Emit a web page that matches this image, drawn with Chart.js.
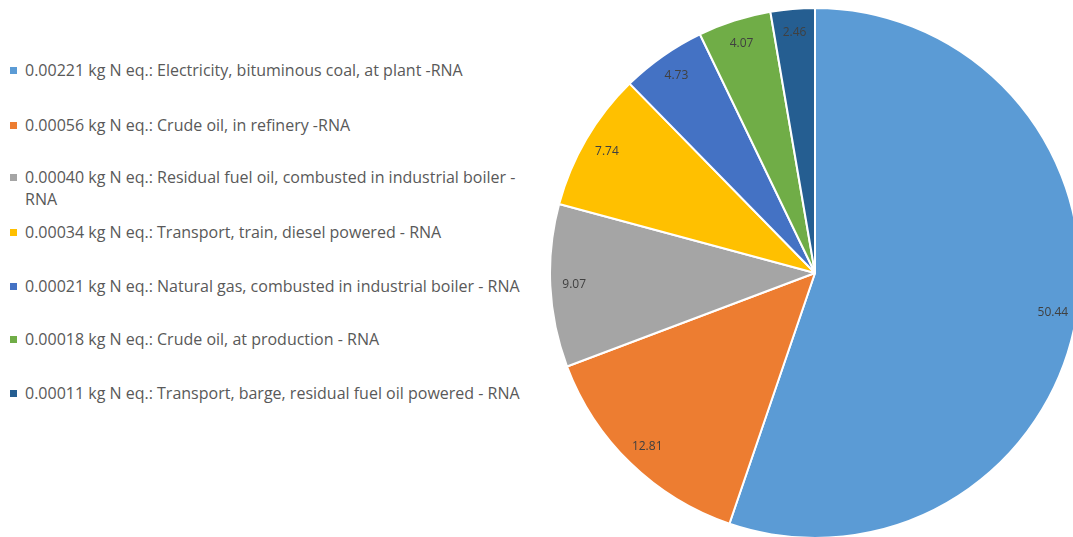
<!DOCTYPE html>
<html>
<head>
<meta charset="utf-8">
<script src="https://cdn.jsdelivr.net/npm/chart.js@4.4.0/dist/chart.umd.min.js"></script>
<style>
    html, body { margin: 0; padding: 0; background: #fff; overflow: hidden; }
    body { width: 1073px; height: 537px; position: relative; font-family: "Open Sans", "Noto Sans", sans-serif; }
    #pieBox { position: absolute; left: 549px; top: 7px; width: 532px; height: 532px; }
    .leg { position: absolute; left: 10px; width: 530px; font-size: 16px; line-height: 22px; color: #595959; }
    .leg .box { position: absolute; left: 0; top: 8px; width: 7px; height: 7px; }
    .leg .txt { margin-left: 15px; width: 505px; }
</style>
</head>
<body>
<div id="legend"></div>
<div id="pieBox"><canvas id="pieChart"></canvas></div>
<script>
/* global Chart*/

// Datos
const amounts = ['0.00221', '0.00056', '0.00040', '0.00034', '0.00021', '0.00018', '0.00011'];
const processes = [
    'Electricity, bituminous coal, at plant -RNA',
    'Crude oil, in refinery -RNA',
    'Residual fuel oil, combusted in industrial boiler - RNA',
    'Transport, train, diesel powered - RNA',
    'Natural gas, combusted in industrial boiler - RNA',
    'Crude oil, at production - RNA',
    'Transport, barge, residual fuel oil powered - RNA'
];
const shares = [50.44, 12.81, 9.07, 7.74, 4.73, 4.07, 2.46];
const colores = ['#5B9BD5', '#ED7D31', '#A5A5A5', '#FFC000', '#4472C4', '#70AD47', '#255E91'];

// Leyenda en HTML (las etiquetas largas necesitan partirse en dos líneas)
const legendTops = [59, 114, 166, 221, 275, 328, 382];
const legend = document.getElementById('legend');
amounts.forEach((a, i) => {
    const item = document.createElement('div');
    item.className = 'leg';
    item.style.top = legendTops[i] + 'px';
    item.innerHTML = '<span class="box" style="background:' + colores[i] + '"></span>' +
        '<div class="txt">' + a + ' kg N eq.: ' + processes[i] + '</div>';
    legend.appendChild(item);
});

// Etiquetas de valor dentro de cada porción, cerca del borde
const sliceLabels = {
    id: 'sliceLabels',
    afterDatasetsDraw(chart) {
        const ctx = chart.ctx;
        const meta = chart.getDatasetMeta(0);
        ctx.save();
        ctx.font = '12px "Open Sans", sans-serif';
        ctx.fillStyle = '#404040';
        ctx.textAlign = 'center';
        ctx.textBaseline = 'middle';
        meta.data.forEach((arc, i) => {
            const p = arc.getProps(['x', 'y', 'startAngle', 'endAngle', 'outerRadius'], true);
            const mid = (p.startAngle + p.endAngle) / 2;
            const r = p.outerRadius * 0.91;
            ctx.fillText(shares[i].toFixed(2), p.x + Math.cos(mid) * r, p.y + Math.sin(mid) * r);
        });
        ctx.restore();
    }
};

var ctx = document.getElementById('pieChart').getContext('2d');
var myChart = new Chart(ctx, {
    type: 'pie',
    data: {
        labels: processes,
        datasets: [{
            data: shares,
            backgroundColor: colores,
            borderColor: '#ffffff',
            borderWidth: 2
        }]
    },
    options: {
        responsive: true,
        maintainAspectRatio: false,
        animation: false,
        layout: { padding: 0 },
        plugins: {
            legend: { display: false },
            tooltip: { enabled: false }
        }
    },
    plugins: [sliceLabels]
});
</script>
</body>
</html>
